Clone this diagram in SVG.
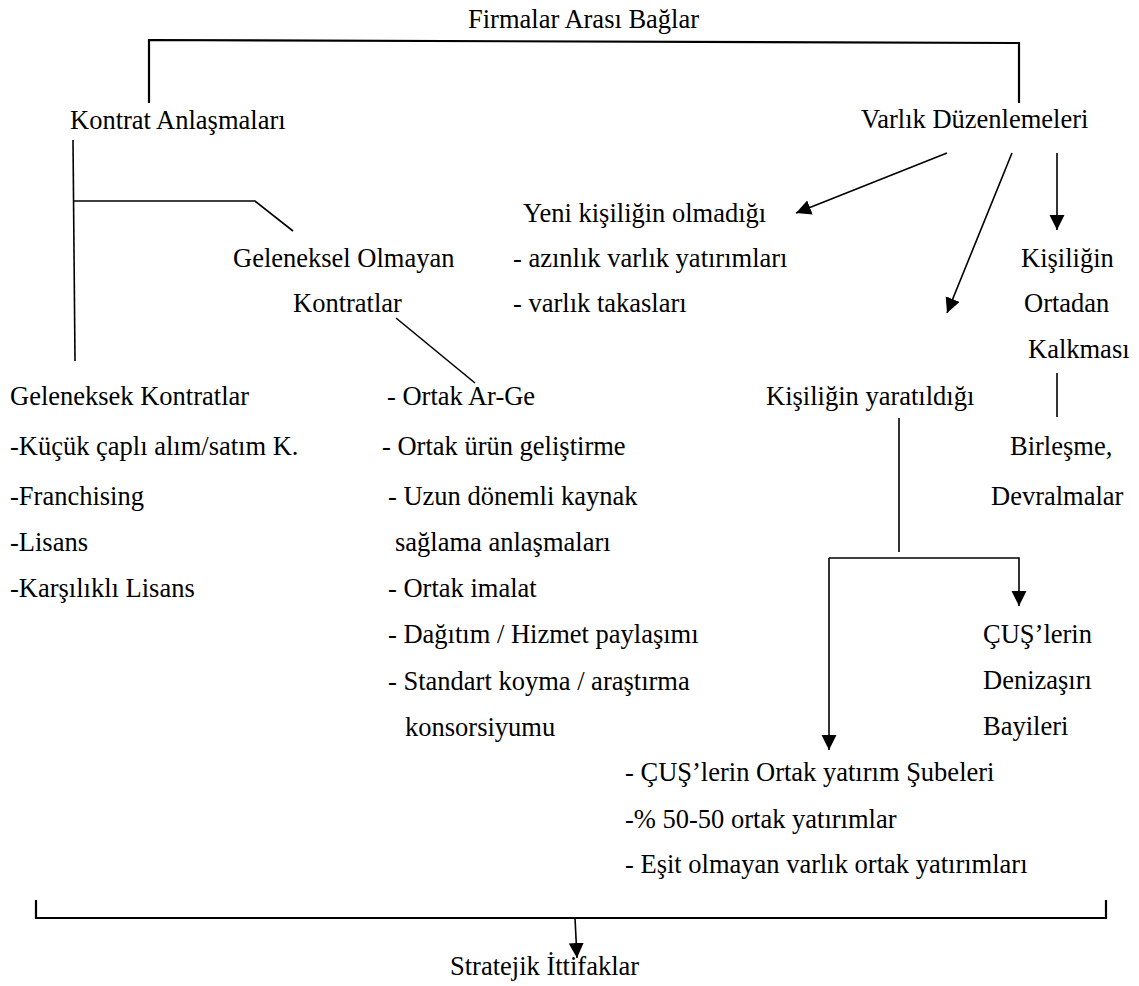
<svg xmlns="http://www.w3.org/2000/svg" width="1139" height="986" viewBox="0 0 1139 986">
  <style>
    text { font-family: "Liberation Serif", "Times New Roman", serif; font-size: 26.5px; fill: #000; }
    .ln { fill: none; stroke: #000; stroke-width: 1.6; }
    .heavy { stroke-width: 2.2; }
    .arr { marker-end: url(#head); }
  </style>
  <defs>
    <marker id="head" markerUnits="userSpaceOnUse" markerWidth="16" markerHeight="16" viewBox="0 0 16 16" refX="15" refY="7.5" orient="auto">
      <path d="M0,0 L15,7.5 L0,15 z" fill="#000"/>
    </marker>
  </defs>

  <rect width="1139" height="986" fill="#fff"/>

  <!-- connectors -->
  <g id="connectors">
    <polyline class="ln heavy" points="149,103 149,40 1019,43 1019,103"/>
    <line class="ln" x1="73" y1="140" x2="75" y2="361"/>
    <polyline class="ln" points="74,201 255,201 293,231"/>
    <line class="ln" x1="396" y1="318" x2="475" y2="383"/>
    <line class="ln arr" x1="947" y1="153" x2="796" y2="213"/>
    <line class="ln arr" x1="1012" y1="153" x2="947" y2="313"/>
    <line class="ln arr" x1="1057" y1="153" x2="1057" y2="230"/>
    <line class="ln" x1="1057" y1="373" x2="1057" y2="417"/>
    <line class="ln" x1="899" y1="418" x2="899" y2="552"/>
    <path class="ln arr" d="M829,558 H1019 V606"/>
    <line class="ln arr" x1="829" y1="558" x2="829" y2="750"/>
    <polyline class="ln heavy" points="36,900 36,918 1106,918 1106,900"/>
    <line class="ln arr" x1="575" y1="918" x2="577" y2="958"/>
  </g>

  <!-- nodes -->
  <g id="firmalar-arasi-baglar"><text x="468" y="28">Firmalar Arası Bağlar</text></g>
  <g id="kontrat-anlasmalari"><text x="70" y="129">Kontrat Anlaşmaları</text></g>
  <g id="varlik-duzenlemeleri"><text x="861" y="128">Varlık Düzenlemeleri</text></g>

  <g id="geleneksel-olmayan">
    <text x="233" y="267">Geleneksel Olmayan</text>
    <text x="293" y="312">Kontratlar</text>
  </g>

  <g id="yeni-kisilik-yok">
    <text x="523" y="222">Yeni kişiliğin olmadığı</text>
    <text x="513" y="267">- azınlık varlık yatırımları</text>
    <text x="513" y="312">- varlık takasları</text>
  </g>

  <g id="kisilik-kalkmasi">
    <text x="1021" y="267">Kişiliğin</text>
    <text x="1024" y="312">Ortadan</text>
    <text x="1028" y="358">Kalkması</text>
  </g>

  <g id="geleneksek-kontratlar">
    <text x="10" y="405">Geleneksek Kontratlar</text>
    <text x="10" y="455">-Küçük çaplı alım/satım K.</text>
    <text x="10" y="505">-Franchising</text>
    <text x="10" y="551">-Lisans</text>
    <text x="10" y="597">-Karşılıklı Lisans</text>
  </g>

  <g id="geleneksel-olmayan-liste">
    <text x="387" y="405">- Ortak Ar-Ge</text>
    <text x="382" y="455">- Ortak ürün geliştirme</text>
    <text x="388" y="505">- Uzun dönemli kaynak</text>
    <text x="395" y="551">sağlama anlaşmaları</text>
    <text x="388" y="597">- Ortak imalat</text>
    <text x="388" y="643">- Dağıtım / Hizmet paylaşımı</text>
    <text x="388" y="690">- Standart koyma / araştırma</text>
    <text x="405" y="736">konsorsiyumu</text>
  </g>

  <g id="kisilik-yaratildigi"><text x="766" y="405">Kişiliğin yaratıldığı</text></g>

  <g id="birlesme-devralmalar">
    <text x="1010" y="455">Birleşme,</text>
    <text x="991" y="505">Devralmalar</text>
  </g>

  <g id="denizasiri-bayiler">
    <text x="983" y="643">ÇUŞ’lerin</text>
    <text x="983" y="689">Denizaşırı</text>
    <text x="983" y="735">Bayileri</text>
  </g>

  <g id="ortak-yatirimlar">
    <text x="625" y="781">- ÇUŞ’lerin Ortak yatırım Şubeleri</text>
    <text x="625" y="828">-% 50-50 ortak yatırımlar</text>
    <text x="625" y="873">- Eşit olmayan varlık ortak yatırımları</text>
  </g>

  <g id="stratejik-ittifaklar"><text x="450" y="975">Stratejik İttifaklar</text></g>
</svg>
